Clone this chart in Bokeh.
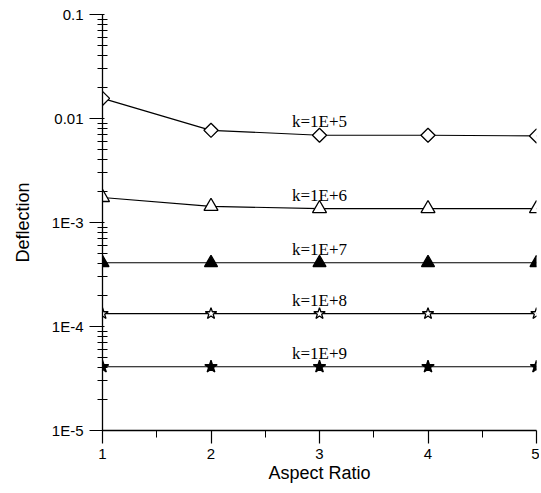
import numpy as np
from bokeh.plotting import figure
from bokeh.models import Range1d, FixedTicker, CustomJSTickFormatter, ColumnDataSource
from bokeh.core.properties import value
from bokeh.embed import file_html
from bokeh.resources import INLINE

# ---- data ----
aspect = [1, 2, 3, 4, 5]
k1e5 = [0.0156, 0.0077, 0.0069, 0.0069, 0.0068]
k1e6 = [0.00174, 0.00143, 0.00136, 0.00136, 0.00136]
k1e7 = [4.1e-4, 4.1e-4, 4.1e-4, 4.1e-4, 4.1e-4]
k1e8 = [1.33e-4, 1.33e-4, 1.33e-4, 1.33e-4, 1.33e-4]
k1e9 = [4.1e-5, 4.1e-5, 4.1e-5, 4.1e-5, 4.1e-5]
series_labels = ["k=1E+5", "k=1E+6", "k=1E+7", "k=1E+8", "k=1E+9"]
y_tick_values = [1e-5, 1e-4, 1e-3, 1e-2, 1e-1]
y_tick_labels = ["1E-5", "1E-4", "1E-3", "0.01", "0.1"]
x_tick_values = [1, 2, 3, 4, 5]
label_x = 3

p = figure(width=539, height=488, y_axis_type="log",
           x_range=Range1d(1, 5), y_range=Range1d(1e-5, 0.1),
           output_backend="svg", toolbar_location=None,
           min_border_left=102, min_border_right=3,
           min_border_top=14, min_border_bottom=58)
p.outline_line_color = None
p.xgrid.visible = False
p.ygrid.visible = False
p.background_fill_color = "white"

styles = [
    dict(marker="square", angle=np.pi / 4, size=10, fill_color="white"),
    dict(marker="triangle", angle=0, size=14, fill_color="white"),
    dict(marker="triangle", angle=0, size=13, fill_color="black"),
    dict(marker="star", angle=0, size=12, fill_color="white"),
    dict(marker="star", angle=0, size=13, fill_color="black"),
]
all_series = [k1e5, k1e6, k1e7, k1e8, k1e9]

for ys, st, lab in zip(all_series, styles, series_labels):
    src = ColumnDataSource(dict(x=aspect, y=ys))
    p.line("x", "y", source=src, line_color="black", line_width=1.2)
    p.scatter("x", "y", source=src, marker=st["marker"], angle=st["angle"],
              size=st["size"], fill_color=st["fill_color"],
              line_color="black", line_width=1.3)
    idx = aspect.index(label_x)
    p.text(x=[label_x], y=[ys[idx]], text=[lab],
           text_font=value("Liberation Serif"), text_font_size="17px",
           text_align="center", text_baseline="bottom", y_offset=-4,
           text_color="black")

# y axis
p.yaxis.ticker = FixedTicker(
    ticks=y_tick_values,
    minor_ticks=[m * 10.0 ** e for e in range(-5, -1) for m in range(2, 10)])
p.yaxis.formatter = CustomJSTickFormatter(
    args=dict(vals=y_tick_values, labs=y_tick_labels),
    code="""
    for (let i = 0; i < vals.length; i++) {
        if (Math.abs(Math.log10(tick) - Math.log10(vals[i])) < 1e-6) return labs[i];
    }
    return '';
    """)
p.yaxis.axis_label = "Deflection"
p.yaxis.axis_label_text_font = "Liberation Sans"
p.yaxis.axis_label_text_font_style = "normal"
p.yaxis.axis_label_text_font_size = "18px"
p.yaxis.axis_label_text_color = "black"
p.yaxis.axis_label_standoff = 16
p.yaxis.major_label_text_font = "Liberation Sans"
p.yaxis.major_label_text_font_size = "15px"
p.yaxis.major_label_text_color = "black"
p.yaxis.major_label_standoff = 6
p.yaxis.major_tick_out = 13
p.yaxis.major_tick_in = 2
p.yaxis.minor_tick_out = 5
p.yaxis.minor_tick_in = 5
p.yaxis.axis_line_width = 1.3
p.yaxis.major_tick_line_width = 1.2

# x axis
p.xaxis.ticker = FixedTicker(ticks=x_tick_values, minor_ticks=[1.5, 2.5, 3.5, 4.5])
p.xaxis.axis_label = "Aspect Ratio"
p.xaxis.axis_label_text_font = "Liberation Sans"
p.xaxis.axis_label_text_font_style = "normal"
p.xaxis.axis_label_text_font_size = "18px"
p.xaxis.axis_label_text_color = "black"
p.xaxis.axis_label_standoff = 1
p.xaxis.major_label_text_font = "Liberation Sans"
p.xaxis.major_label_text_font_size = "15px"
p.xaxis.major_label_text_color = "black"
p.xaxis.major_label_standoff = 5
p.xaxis.major_tick_out = 13
p.xaxis.major_tick_in = 0
p.xaxis.minor_tick_out = 7
p.xaxis.minor_tick_in = 0
p.xaxis.axis_line_width = 1.3
p.xaxis.major_tick_line_width = 1.2

open("out.html", "w").write(file_html(p, INLINE))
